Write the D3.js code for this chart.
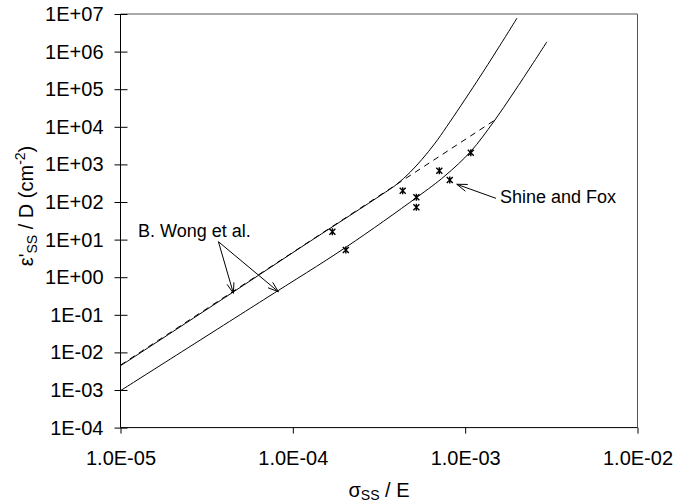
<!DOCTYPE html>
<html><head><meta charset="utf-8">
<script src="https://cdn.jsdelivr.net/npm/d3@7"></script>
<style>body{margin:0;background:#fff}svg{display:block;font-family:"Liberation Sans",Arial,sans-serif}</style>
</head><body><svg id="c" width="691" height="504"></svg>
<script>
// ---- data ----
const xTicks = [1e-5, 1e-4, 1e-3, 1e-2];
const xTickLabels = ["1.0E-05", "1.0E-04", "1.0E-03", "1.0E-02"];
const yTicks = [1e-4, 1e-3, 1e-2, 1e-1, 1e0, 1e1, 1e2, 1e3, 1e4, 1e5, 1e6, 1e7];
const yTickLabels = ["1E-04", "1E-03", "1E-02", "1E-01", "1E+00", "1E+01", "1E+02", "1E+03", "1E+04", "1E+05", "1E+06", "1E+07"];

// B. Wong et al. – upper curve
const upperX = [1.0e-5, 3.95e-5, 1.10e-4, 3.21e-4, 4.01e-4, 4.79e-4, 5.62e-4, 6.69e-4, 7.81e-4, 1.167e-3, 1.56e-3, 2.0e-3];
const upperY = [4.4e-3, 0.27, 6.0, 147, 296, 617, 1367, 3680, 1.007e4, 1.58e5, 1.26e6, 7.8e6];
// B. Wong et al. – lower curve
const lowerX = [1.0e-5, 6.74e-5, 2.03e-4, 5.24e-4, 7.64e-4, 1.078e-3, 1.46e-3, 1.905e-3, 2.49e-3, 2.98e-3];
const lowerY = [9.6e-4, 0.248, 6.24, 133, 498, 2218, 1.34e4, 7.93e4, 5.1e5, 1.82e6];
// dashed power-law line
const dashX = [1.0e-5, 1.49e-3];
const dashY = [4.6e-3, 1.52e4];
// Shine and Fox data points
const ptsX = [1.696e-4, 2.03e-4, 4.34e-4, 5.21e-4, 5.21e-4, 7.08e-4, 8.14e-4, 1.078e-3];
const ptsY = [16.2, 5.3, 200, 133, 72, 680, 385, 2050];

// annotations (data coordinates)
const wongText = "B. Wong et al.";
const wongLabel = [1.264e-5, 11.7];
const wongTail = [3.70e-5, 8.8];
const wongTips = [[4.52e-5, 0.373], [8.24e-5, 0.411]];
const shineText = "Shine and Fox";
const shineLabel = [1.594e-3, 94];
const shineTail = [1.51e-3, 125];
const shineTip = [8.94e-4, 296];

// ---- chart ----
const svg = d3.select("#c");
const x = d3.scaleLog().domain([1e-5, 1e-2]).range([120.5, 637.5]);
const y = d3.scaleLog().domain([1e-4, 1e7]).range([427.6, 14]);

// frame (top/right)
svg.append("path").attr("d", `M${x(1e-5)},${y(1e7)}H${x(1e-2)}V${y(1e-4)}`)
  .attr("fill", "none").attr("stroke", "#555").attr("stroke-width", 1);

// y axis
const ya = svg.append("g").attr("transform", `translate(${x(1e-5)},0)`)
  .call(d3.axisLeft(y).tickValues(yTicks).tickFormat((d, i) => yTickLabels[i]).tickSize(6).tickPadding(11));
ya.attr("font-size", 20).attr("font-family", "Liberation Sans, Arial, sans-serif");
ya.select(".domain").attr("stroke", "#000").attr("d", `M0,${y(1e-4)}V${y(1e7)}`);
ya.selectAll(".tick line").attr("x1", 7).attr("x2", -6).attr("stroke", "#000");
ya.selectAll(".tick text").style("font-size", "20px").attr("fill", "#000");

// x axis
const xa = svg.append("g").attr("transform", `translate(0,${y(1e-4)})`)
  .call(d3.axisBottom(x).tickValues(xTicks).tickFormat((d, i) => xTickLabels[i]).tickSize(6).tickPadding(17));
xa.attr("font-size", 20).attr("font-family", "Liberation Sans, Arial, sans-serif");
xa.select(".domain").attr("stroke", "#000").attr("d", `M${x(1e-5)},0H${x(1e-2)}`);
xa.selectAll(".tick line").attr("stroke", "#000");
xa.selectAll(".tick text").style("font-size", "20px").attr("fill", "#000");

// axis titles
const xt = svg.append("text").attr("x", (x(1e-5) + x(1e-2)) / 2).attr("y", 497)
  .attr("text-anchor", "middle").attr("font-size", 20);
xt.append("tspan").text("σ");
xt.append("tspan").attr("font-size", 14).attr("dy", 3).text("SS");
xt.append("tspan").attr("dy", -3).text(" / E");

const yt = svg.append("text").attr("transform", "translate(33,206) rotate(-90)")
  .attr("text-anchor", "middle").attr("font-size", 20);
yt.append("tspan").text("ε'");
yt.append("tspan").attr("font-size", 14).attr("dy", 4).text("SS");
yt.append("tspan").attr("dy", -4).text(" / D (cm");
yt.append("tspan").attr("font-size", 14).attr("dy", -8).text("-2");
yt.append("tspan").attr("dy", 8).text(")");

// curves
const line = d3.line().x(d => x(d[0])).y(d => y(d[1])).curve(d3.curveCatmullRom.alpha(0.5));
const g = svg.append("g");
g.append("path").attr("d", line(upperX.map((v, i) => [v, upperY[i]])))
  .attr("fill", "none").attr("stroke", "#000").attr("stroke-width", 1);
g.append("path").attr("d", line(lowerX.map((v, i) => [v, lowerY[i]])))
  .attr("fill", "none").attr("stroke", "#000").attr("stroke-width", 1);
g.append("path").attr("d", line(dashX.map((v, i) => [v, dashY[i]])))
  .attr("fill", "none").attr("stroke", "#000").attr("stroke-width", 1).attr("stroke-dasharray", "6,5");

// markers
g.selectAll(".pt").data(ptsX.map((v, i) => [v, ptsY[i]])).enter().append("path")
  .attr("transform", d => `translate(${x(d[0])},${y(d[1])})`)
  .attr("d", "M-3,-3L3,3M-3,3L3,-3M0,-3.5L0,3.5")
  .attr("stroke", "#000").attr("stroke-width", 1.4).attr("fill", "none");

// arrows
function arrow(from, to) {
  const x0 = x(from[0]), y0 = y(from[1]), x1 = x(to[0]), y1 = y(to[1]);
  const a = Math.atan2(y1 - y0, x1 - x0), L = 11, w = 0.33;
  const p = `M${x0},${y0}L${x1},${y1}` +
    `M${x1 - L * Math.cos(a - w)},${y1 - L * Math.sin(a - w)}L${x1},${y1}` +
    `L${x1 - L * Math.cos(a + w)},${y1 - L * Math.sin(a + w)}`;
  svg.append("path").attr("d", p).attr("fill", "none").attr("stroke", "#000").attr("stroke-width", 1);
}
wongTips.forEach(t => arrow(wongTail, t));
arrow(shineTail, shineTip);

svg.append("text").attr("x", x(wongLabel[0])).attr("y", y(wongLabel[1])).attr("font-size", 18).text(wongText);
svg.append("text").attr("x", x(shineLabel[0])).attr("y", y(shineLabel[1])).attr("font-size", 18).text(shineText);
</script></body></html>
